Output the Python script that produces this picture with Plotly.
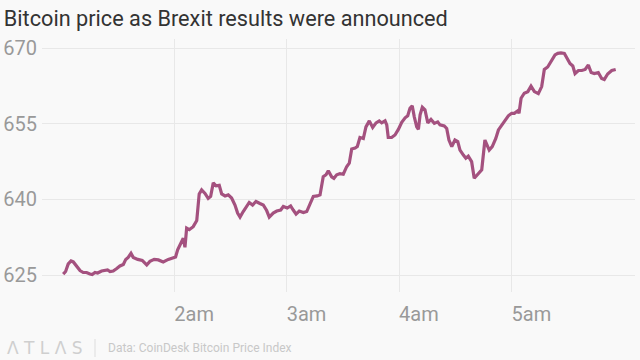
import plotly.graph_objects as go

# Time of each observation, in minutes after midnight (24 June 2016)
minutes = [60.7, 62.0, 63.4, 64.9, 66.1, 67.9, 69.7, 71.4, 73.2, 75.0, 76.2, 77.7, 79.1,
           81.2, 83.0, 84.4, 85.7, 87.4, 89.3, 91.0, 92.8, 94.1, 95.4, 96.9, 98.1, 100.5,
           102.9, 105.3, 107.0, 109.3, 111.5, 114.1, 116.8, 119.5, 120.7, 121.8, 123.0,
           124.8, 125.7, 126.6, 128.0, 130.1, 132.0, 133.3, 134.6, 136.4, 138.1, 139.4,
           140.8, 142.3, 144.0, 145.3, 147.1, 148.8, 150.6, 152.4, 153.8, 155.1, 156.8,
           158.6, 160.0, 161.8, 163.6, 165.7, 167.5, 169.3, 170.7, 172.8, 174.7, 176.8,
           178.2, 180.3, 182.1, 183.5, 185.0, 186.7, 188.9, 190.7, 192.4, 194.2, 196.3,
           197.8, 199.5, 201.0, 202.2, 204.0, 205.2, 206.7, 208.4, 210.2, 212.0, 213.4,
           214.7, 216.5, 217.7, 219.1, 220.9, 222.3, 224.1, 225.9, 227.7, 229.4, 230.7,
           232.5, 233.4, 234.2, 236.0, 237.8, 239.6, 241.4, 243.2, 244.6, 245.8, 247.0,
           248.1, 249.4, 250.3, 251.2, 252.4, 253.8, 255.3, 257.0, 258.8, 260.6, 261.8,
           264.1, 265.4, 266.6, 268.1, 269.8, 271.3, 272.5, 274.3, 275.6, 276.9, 278.7,
           280.1, 281.9, 284.1, 285.8, 288.1, 289.7, 291.6, 293.0, 294.8, 296.5, 298.3,
           300.1, 301.5, 303.3, 304.0, 305.1, 306.8, 308.7, 310.4, 312.2, 314.3, 316.1,
           317.5, 319.3, 320.5, 321.8, 323.2, 324.7, 326.4, 328.2, 329.5, 331.2, 332.7,
           333.9, 335.7, 337.5, 339.3, 341.0, 342.5, 344.2, 346.3, 348.1, 349.5, 351.3,
           353.5, 355.6]

# Bitcoin price (USD)
prices = [625.2, 625.7, 627.2, 627.8, 627.6, 626.7, 625.9, 625.5, 625.5, 625.2, 625.1, 625.5, 625.4,
          625.8, 625.9, 626.0, 625.7, 625.8, 626.3, 626.8, 627.1, 628.1, 628.5, 629.3, 628.5, 628.1,
          627.9, 627.0, 627.7, 628.1, 628.0, 627.6, 628.1, 628.4, 628.6, 630.0, 631.0,
          632.3, 630.5, 634.3, 634.0, 634.6, 635.8, 641.1, 641.9, 641.2, 640.2, 640.6,
          643.3, 642.7, 642.8, 641.1, 640.7, 640.9, 640.3, 638.9, 637.3, 636.5, 637.6,
          638.7, 639.4, 638.9, 639.6, 639.2, 638.9, 637.8, 636.5, 637.3, 637.7, 637.9,
          638.6, 638.3, 638.7, 637.9, 637.1, 637.7, 637.4, 637.6, 638.9, 640.6, 640.7,
          640.9, 644.5, 644.9, 645.7, 644.5, 644.2, 644.9, 645.1, 645.0, 646.5, 647.2,
          650.0, 650.2, 650.5, 652.3, 652.1, 654.4, 655.6, 654.3, 655.2, 655.6, 655.2,
          655.6, 654.8, 652.3, 652.3, 652.8, 653.9, 655.3, 656.2, 656.6, 658.1, 658.6,
          656.4, 654.4, 653.9, 656.8, 658.3, 657.8, 655.2, 655.9, 655.1, 655.4, 654.8,
          654.6, 654.1, 651.8, 650.5, 651.8, 651.5, 649.8, 648.8, 648.2, 648.6, 647.5,
          644.2, 644.9, 645.9, 651.8, 649.8, 650.5, 652.1, 653.8, 654.8, 655.8, 656.6,
          657.1, 657.1, 657.6, 657.1, 660.1, 661.1, 661.4, 662.5, 661.4, 661.0, 662.4,
          665.8, 666.3, 667.0, 668.0, 668.7, 669.0, 669.1, 669.0, 668.0, 667.0, 666.5,
          665.0, 665.6, 665.6, 665.8, 666.7, 665.2, 665.0, 665.2, 664.0, 663.8, 664.9,
          665.6, 665.8]

x_tick_values = [120, 180, 240, 300]
x_tick_labels = ["2am", "3am", "4am", "5am"]
y_tick_values = [625, 640, 655, 670]

title_text = "Bitcoin price as Brexit results were announced"
source_text = "Data: CoinDesk Bitcoin Price Index"
logo_text = "Λ T L Λ S"

BG = "#f9f9f9"
FONT = "Roboto"

fig = go.Figure()
fig.add_trace(go.Scatter(
    x=minutes, y=prices, mode="lines",
    line=dict(color="#a4517f", width=3.2),
    hoverinfo="skip", showlegend=False,
))

fig.update_layout(
    template="none",
    width=640, height=360,
    paper_bgcolor=BG, plot_bgcolor=BG,
    margin=dict(l=42, r=5, t=39, b=68, autoexpand=False),
    font=dict(family=FONT, color="#999999"),
    title=dict(text=title_text, x=0.006, xref="container", xanchor="left",
               y=1 - 18 / 360, yref="container", yanchor="middle",
               pad=dict(l=0, r=0, t=0, b=0),
               font=dict(family=FONT, size=21.7, color="#333333")),
    xaxis=dict(range=[49.4, 365.9], tickvals=x_tick_values, ticktext=x_tick_labels,
               showgrid=True, gridcolor="#e8e8e8", gridwidth=1, zeroline=False,
               showline=False, ticks="", ticklabelposition="outside right",
               tickfont=dict(family=FONT, size=20, color="#999999"),
               ticklabelstandoff=8, automargin=False, fixedrange=True),
    yaxis=dict(range=[621.63, 671.85], tickvals=y_tick_values,
               showgrid=True, gridcolor="#e8e8e8", gridwidth=1, zeroline=False,
               showline=False, ticks="", ticklabelstandoff=4,
               tickfont=dict(family=FONT, size=20, color="#999999"),
               automargin=False, fixedrange=True),
)

fig.add_annotation(text=logo_text, xref="paper", yref="paper",
                   x=(5 - 42) / 593, y=(292 - 348) / 253, xanchor="left", yanchor="middle",
                   showarrow=False, font=dict(family="DejaVu Sans", size=17, color="#cfcfcf"))
fig.add_shape(type="line", xref="paper", yref="paper",
              x0=(95 - 42) / 593, x1=(95 - 42) / 593,
              y0=(292 - 339) / 253, y1=(292 - 357) / 253,
              line=dict(color="#dddddd", width=1))
fig.add_annotation(text=source_text, xref="paper", yref="paper",
                   x=(106 - 42) / 593, y=(292 - 348) / 253, xanchor="left", yanchor="middle",
                   showarrow=False, font=dict(family=FONT, size=12, color="#c8c8c8"))

fig.write_html(
    "out.html",
    config={"displayModeBar": False},
    post_script="document.body.style.margin='0';document.body.style.background='#f9f9f9';",
)
